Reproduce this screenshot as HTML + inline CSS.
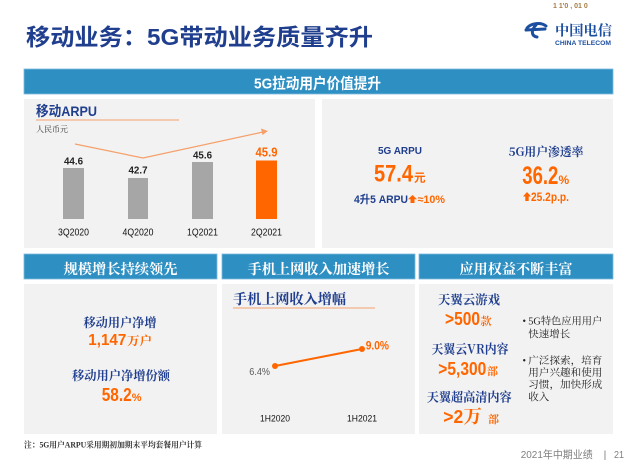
<!DOCTYPE html>
<html><head><meta charset="utf-8">
<style>
html,body{margin:0;padding:0;background:#fff;width:630px;height:463px;overflow:hidden;}
svg{display:block;}
.s{font-family:"Liberation Sans","Noto Sans CJK SC",sans-serif;}
.r{font-family:"Liberation Serif","Noto Serif CJK SC",serif;}
.h{font-family:"Noto Serif CJK SC","Noto Sans CJK SC",serif;}
</style></head><body>
<svg width="630" height="463" viewBox="0 0 630 463" xmlns="http://www.w3.org/2000/svg">
<!-- top-right digits -->
<text x="553" y="8" class="s" font-size="7" font-weight="bold" fill="#a67c45">1  1'0  ,  01  0</text>
<!-- logo -->
<g fill="none" stroke="#1d4fa0" stroke-width="3" stroke-linecap="round">
  <path d="M527,28 C531,23 541,22 546,26"/>
  <path d="M526,30 L545,29"/>
  <path d="M536,25 C531,30 531,36 537,37"/>
</g>
<text x="555" y="35.5" class="h" font-size="14" font-weight="bold" fill="#1d4fa0" textLength="57" lengthAdjust="spacingAndGlyphs">中国电信</text>
<text x="555" y="45" class="s" font-size="6" font-weight="bold" fill="#1d4fa0" textLength="56" lengthAdjust="spacingAndGlyphs">CHINA TELECOM</text>

<!-- title -->
<text x="26" y="45" class="s" font-size="23" font-weight="bold" fill="#1f3e8e" textLength="347" lengthAdjust="spacingAndGlyphs">移动业务：5G带动业务质量齐升</text>

<!-- top bar -->
<rect x="24" y="69" width="589" height="25" fill="#2e8fc3" stroke="#7db9dc" stroke-width="0.8"/>
<text x="254" y="88.5" class="s" font-size="15" font-weight="bold" fill="#fff" textLength="127" lengthAdjust="spacingAndGlyphs">5G拉动用户价值提升</text>

<!-- top panels -->
<rect x="24" y="99" width="291" height="149" fill="#f2f2f2"/>
<rect x="322" y="99" width="291" height="149" fill="#f2f2f2"/>

<!-- ARPU chart -->
<text x="36" y="116" class="s" font-size="14" font-weight="bold" fill="#1f3e8e" textLength="61" lengthAdjust="spacingAndGlyphs">移动ARPU</text>
<line x1="36" y1="120" x2="179" y2="120" stroke="#f4a26c" stroke-width="1"/>
<text x="36" y="132" class="r" font-size="8" fill="#333">人民币元</text>

<rect x="63" y="168" width="21" height="51" fill="#a6a6a6"/>
<rect x="128" y="178" width="20" height="41" fill="#a6a6a6"/>
<rect x="192" y="162" width="21" height="57" fill="#a6a6a6"/>
<rect x="256" y="160.5" width="21" height="58.5" fill="#ff6600"/>

<text x="64" y="164.5" class="s" font-size="10.5" font-weight="bold" fill="#222" textLength="19" lengthAdjust="spacingAndGlyphs">44.6</text>
<text x="128.5" y="173.5" class="s" font-size="10.5" font-weight="bold" fill="#222" textLength="19" lengthAdjust="spacingAndGlyphs">42.7</text>
<text x="193" y="158.5" class="s" font-size="10.5" font-weight="bold" fill="#222" textLength="19" lengthAdjust="spacingAndGlyphs">45.6</text>
<text x="255.5" y="156.5" class="s" font-size="13" font-weight="bold" fill="#ff6600" textLength="22" lengthAdjust="spacingAndGlyphs">45.9</text>

<text x="58" y="235.7" class="s" font-size="10.5" fill="#111" textLength="31" lengthAdjust="spacingAndGlyphs">3Q2020</text>
<text x="122.5" y="235.7" class="s" font-size="10.5" fill="#111" textLength="31" lengthAdjust="spacingAndGlyphs">4Q2020</text>
<text x="187" y="235.7" class="s" font-size="10.5" fill="#111" textLength="31" lengthAdjust="spacingAndGlyphs">1Q2021</text>
<text x="251" y="235.7" class="s" font-size="10.5" fill="#111" textLength="31" lengthAdjust="spacingAndGlyphs">2Q2021</text>

<polyline points="75,144 143,158 263,132" fill="none" stroke="#f5a06a" stroke-width="1.2"/>
<polygon points="268,131 261,128.5 262.5,135" fill="#f5a06a"/>

<!-- right top panel -->
<text x="378" y="154" class="s" font-size="10.5" font-weight="bold" fill="#1f3e8e" textLength="44" lengthAdjust="spacingAndGlyphs">5G ARPU</text>
<text x="374" y="181.5" class="s" font-size="24.5" font-weight="bold" fill="#ff6600" textLength="39" lengthAdjust="spacingAndGlyphs">57.4</text>
<text x="414" y="181.5" class="s" font-size="11.5" font-weight="bold" fill="#ff6600">元</text>
<text x="354" y="203" class="s" font-size="11" font-weight="bold" fill="#1f3e8e" textLength="54" lengthAdjust="spacingAndGlyphs">4升5 ARPU</text>
<polygon points="412.5,195 417,199.2 414.5,199.2 414.5,203 410.5,203 410.5,199.2 408,199.2" fill="#ff6600"/>
<text x="417.5" y="203" class="s" font-size="11" font-weight="bold" fill="#ff6600" textLength="27.5" lengthAdjust="spacingAndGlyphs">≈10%</text>

<text x="508.5" y="156" class="h" font-size="12" font-weight="bold" fill="#1f3e8e" textLength="75" lengthAdjust="spacingAndGlyphs">5G用户渗透率</text>
<text x="522.3" y="184" class="s" font-size="25" font-weight="bold" fill="#ff6600" textLength="36" lengthAdjust="spacingAndGlyphs">36.2</text>
<text x="558.5" y="184" class="s" font-size="12" font-weight="bold" fill="#ff6600">%</text>
<polygon points="527,192 531,196.5 528.7,196.5 528.7,201 525.3,201 525.3,196.5 523,196.5" fill="#ff6600"/>
<text x="531" y="201" class="s" font-size="11.5" font-weight="bold" fill="#ff6600" textLength="38" lengthAdjust="spacingAndGlyphs">25.2p.p.</text>

<!-- bottom headers -->
<rect x="24" y="254" width="193" height="25" fill="#2e8fc3" stroke="#7db9dc" stroke-width="0.8"/>
<rect x="222" y="254" width="193" height="25" fill="#2e8fc3" stroke="#7db9dc" stroke-width="0.8"/>
<rect x="419" y="254" width="194" height="25" fill="#2e8fc3" stroke="#7db9dc" stroke-width="0.8"/>
<text x="63.5" y="274" class="h" font-size="14" font-weight="bold" fill="#fff" textLength="114" lengthAdjust="spacingAndGlyphs">规模增长持续领先</text>
<text x="247.5" y="274" class="h" font-size="14" font-weight="bold" fill="#fff" textLength="142" lengthAdjust="spacingAndGlyphs">手机上网收入加速增长</text>
<text x="459.5" y="274" class="h" font-size="14" font-weight="bold" fill="#fff" textLength="113" lengthAdjust="spacingAndGlyphs">应用权益不断丰富</text>

<!-- bottom panels -->
<rect x="24" y="284" width="193" height="150" fill="#f2f2f2"/>
<rect x="222" y="284" width="193" height="150" fill="#f2f2f2"/>
<rect x="419" y="284" width="194" height="150" fill="#f2f2f2"/>

<!-- left bottom -->
<text x="83.5" y="327" class="h" font-size="12.5" font-weight="bold" fill="#1f3e8e" textLength="73" lengthAdjust="spacingAndGlyphs">移动用户净增</text>
<text x="88.3" y="345" class="s" font-size="15.5" font-weight="bold" fill="#ff6600" textLength="38" lengthAdjust="spacingAndGlyphs">1,147</text>
<text x="127" y="345" class="h" font-size="12" font-weight="bold" fill="#ff6600" textLength="25" lengthAdjust="spacingAndGlyphs">万户</text>
<text x="72" y="380" class="h" font-size="12.5" font-weight="bold" fill="#1f3e8e" textLength="98" lengthAdjust="spacingAndGlyphs">移动用户净增份额</text>
<text x="101.7" y="401" class="s" font-size="18.5" font-weight="bold" fill="#ff6600" textLength="30" lengthAdjust="spacingAndGlyphs">58.2</text>
<text x="131.7" y="401" class="s" font-size="11" font-weight="bold" fill="#ff6600">%</text>

<text x="24" y="447.5" class="r" font-size="8" font-weight="bold" fill="#333" textLength="178" lengthAdjust="spacingAndGlyphs">注：5G用户ARPU采用期初加期末平均套餐用户计算</text>

<!-- middle bottom -->
<text x="233" y="304" class="h" font-size="14" font-weight="bold" fill="#1f3e8e" textLength="113" lengthAdjust="spacingAndGlyphs">手机上网收入增幅</text>
<line x1="233" y1="308" x2="375" y2="308" stroke="#f4a26c" stroke-width="1"/>
<line x1="275" y1="366" x2="362" y2="349" stroke="#ff6600" stroke-width="2"/>
<circle cx="275" cy="366" r="3" fill="#ff6600"/>
<circle cx="362" cy="349" r="3" fill="#ff6600"/>
<text x="249.3" y="375" class="s" font-size="10.5" fill="#595959" textLength="20.7" lengthAdjust="spacingAndGlyphs">6.4%</text>
<text x="365.7" y="349.3" class="s" font-size="11.5" font-weight="bold" fill="#ff6600" textLength="23.3" lengthAdjust="spacingAndGlyphs">9.0%</text>
<text x="260" y="421.7" class="s" font-size="9.5" fill="#111" textLength="30" lengthAdjust="spacingAndGlyphs">1H2020</text>
<text x="347" y="421.7" class="s" font-size="9.5" fill="#111" textLength="30" lengthAdjust="spacingAndGlyphs">1H2021</text>

<!-- right bottom -->
<text x="438" y="304" class="h" font-size="12.5" font-weight="bold" fill="#1f3e8e" textLength="62" lengthAdjust="spacingAndGlyphs">天翼云游戏</text>
<text x="445" y="325" class="s" font-size="18.5" font-weight="bold" fill="#ff6600" textLength="35" lengthAdjust="spacingAndGlyphs">&gt;500</text>
<text x="480.5" y="325" class="h" font-size="11" font-weight="bold" fill="#ff6600">款</text>
<text x="431.5" y="353.5" class="h" font-size="12.5" font-weight="bold" fill="#1f3e8e" textLength="77" lengthAdjust="spacingAndGlyphs">天翼云VR内容</text>
<text x="438.3" y="375" class="s" font-size="18.5" font-weight="bold" fill="#ff6600" textLength="48" lengthAdjust="spacingAndGlyphs">&gt;5,300</text>
<text x="487" y="375" class="h" font-size="11" font-weight="bold" fill="#ff6600">部</text>
<text x="426.7" y="401.5" class="h" font-size="12.5" font-weight="bold" fill="#1f3e8e" textLength="85" lengthAdjust="spacingAndGlyphs">天翼超高清内容</text>
<text x="443.3" y="423" class="s" font-size="18.5" font-weight="bold" fill="#ff6600" textLength="20" lengthAdjust="spacingAndGlyphs">&gt;2</text>
<text x="463.5" y="423" class="h" font-size="18.5" font-weight="bold" fill="#ff6600">万</text>
<text x="488" y="423" class="h" font-size="11" font-weight="bold" fill="#ff6600">部</text>

<g class="r" font-size="10" fill="#222">
<text x="522.5" y="324.3">•</text>
<text x="528.3" y="324.3" textLength="74" lengthAdjust="spacingAndGlyphs">5G特色应用用户</text>
<text x="528.3" y="337.5" textLength="42" lengthAdjust="spacingAndGlyphs">快速增长</text>
<text x="522.5" y="364">•</text>
<text x="528.3" y="364" textLength="74" lengthAdjust="spacingAndGlyphs">广泛探索，培育</text>
<text x="528.3" y="376" textLength="74" lengthAdjust="spacingAndGlyphs">用户兴趣和使用</text>
<text x="528.3" y="388" textLength="74" lengthAdjust="spacingAndGlyphs">习惯，加快形成</text>
<text x="528.3" y="400.5" textLength="21" lengthAdjust="spacingAndGlyphs">收入</text>
</g>

<!-- footer -->
<text x="520.7" y="458" class="s" font-size="10.5" fill="#7f7f7f" textLength="72" lengthAdjust="spacingAndGlyphs">2021年中期业绩</text>
<text x="605" y="458" class="s" font-size="10.5" fill="#7f7f7f" text-anchor="middle">|</text>
<text x="614" y="458" class="s" font-size="10.5" fill="#7f7f7f" textLength="10" lengthAdjust="spacingAndGlyphs">21</text>
</svg>
</body></html>
